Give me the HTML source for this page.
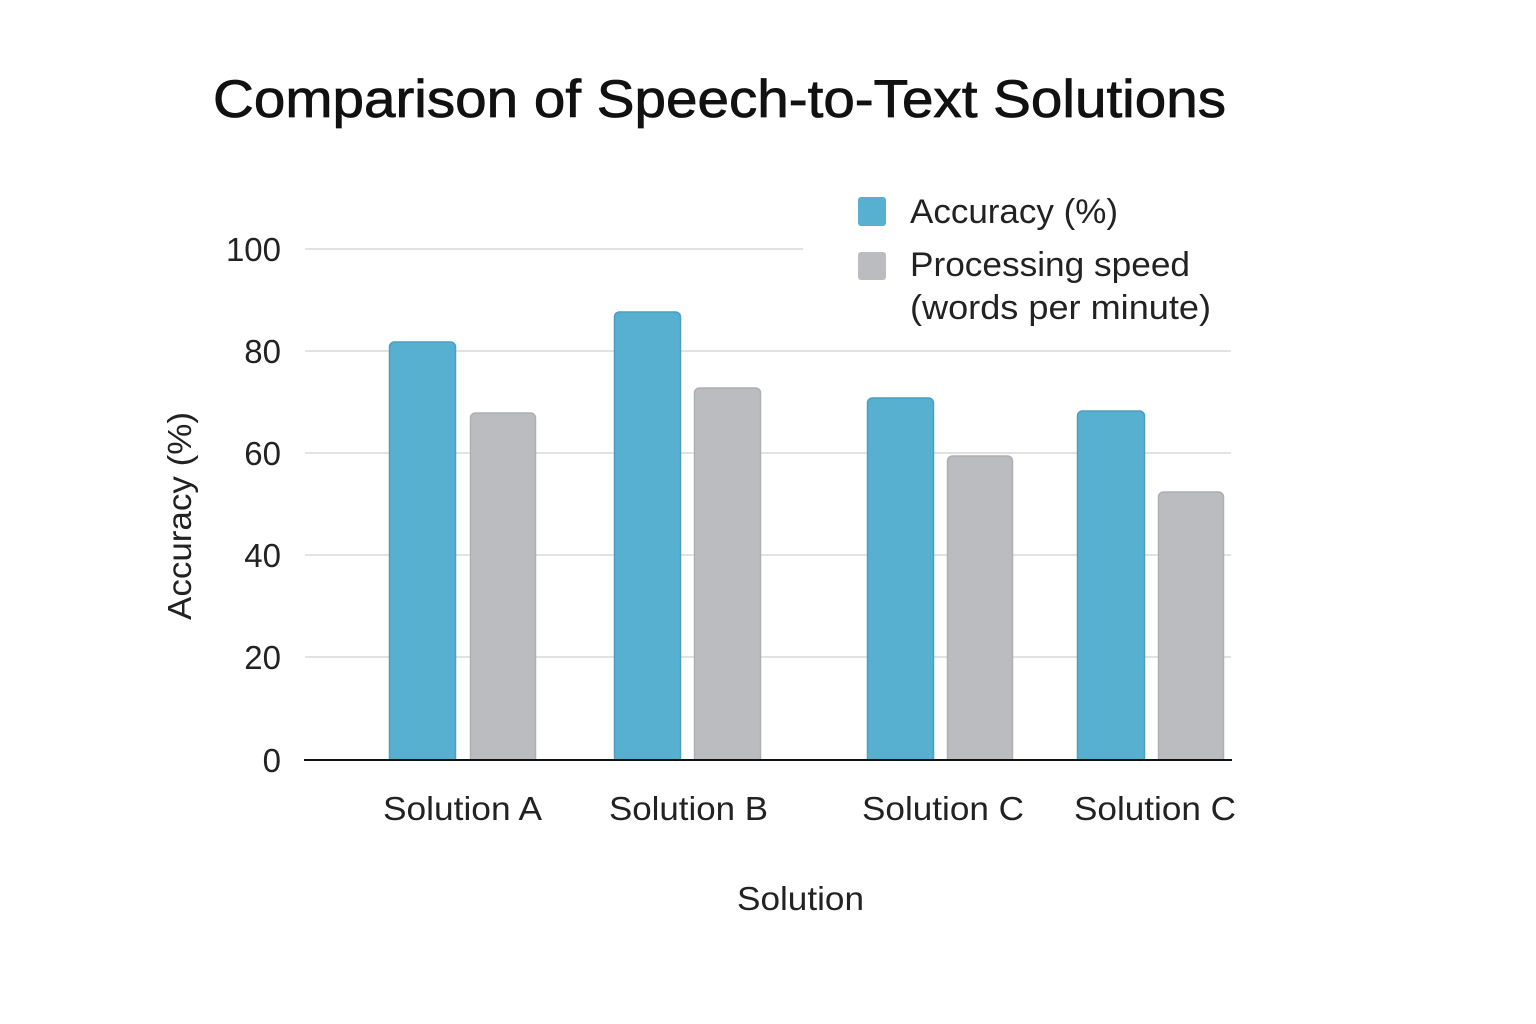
<!DOCTYPE html>
<html><head><meta charset="utf-8"><style>
body{margin:0;background:#fff;}
svg{display:block;font-family:"Liberation Sans",sans-serif;}
</style></head><body>
<svg width="1536" height="1024" viewBox="0 0 1536 1024" xmlns="http://www.w3.org/2000/svg">
<rect width="1536" height="1024" fill="#fff"/>
<text x="213" y="117" font-size="53" fill="#111" textLength="1013" lengthAdjust="spacingAndGlyphs" stroke="#111" stroke-width="0.8">Comparison of Speech-to-Text Solutions</text>
<g stroke="#e2e2e2" stroke-width="2">
<line x1="305" y1="249" x2="803" y2="249"/>
<line x1="305" y1="351" x2="1231" y2="351"/>
<line x1="305" y1="453" x2="1231" y2="453"/>
<line x1="305" y1="555" x2="1231" y2="555"/>
<line x1="305" y1="657" x2="1231" y2="657"/>
</g>
<g font-size="33" fill="#222" text-anchor="end">
<text x="281" y="261">100</text>
<text x="281" y="363">80</text>
<text x="281" y="465">60</text>
<text x="281" y="567">40</text>
<text x="281" y="669">20</text>
<text x="281" y="772">0</text>
</g>
<text transform="translate(191,516) rotate(-90)" font-size="33" fill="#222" text-anchor="middle" textLength="208" lengthAdjust="spacingAndGlyphs">Accuracy (%)</text>
<g fill="#57b0d0" stroke="#4a9fbf" stroke-width="1.5">
<path d="M389.5,760 V347 a5,5 0 0 1 5,-5 H450.5 a5,5 0 0 1 5,5 V760Z"/>
<path d="M614.5,760 V317 a5,5 0 0 1 5,-5 H675.5 a5,5 0 0 1 5,5 V760Z"/>
<path d="M867.5,760 V403 a5,5 0 0 1 5,-5 H928.5 a5,5 0 0 1 5,5 V760Z"/>
<path d="M1077.5,760 V416 a5,5 0 0 1 5,-5 H1139.5 a5,5 0 0 1 5,5 V760Z"/>
</g>
<g fill="#bbbcc0" stroke="#aeafb3" stroke-width="1.5">
<path d="M470.5,760 V418 a5,5 0 0 1 5,-5 H530.5 a5,5 0 0 1 5,5 V760Z"/>
<path d="M694.5,760 V393 a5,5 0 0 1 5,-5 H755.5 a5,5 0 0 1 5,5 V760Z"/>
<path d="M947.5,760 V461 a5,5 0 0 1 5,-5 H1007.5 a5,5 0 0 1 5,5 V760Z"/>
<path d="M1158.5,760 V497 a5,5 0 0 1 5,-5 H1218.5 a5,5 0 0 1 5,5 V760Z"/>
</g>
<line x1="304" y1="760" x2="1232" y2="760" stroke="#111" stroke-width="2"/>
<g font-size="33" fill="#222">
<text x="383" y="820" textLength="159" lengthAdjust="spacingAndGlyphs">Solution A</text>
<text x="609" y="820" textLength="159" lengthAdjust="spacingAndGlyphs">Solution B</text>
<text x="862" y="820" textLength="162" lengthAdjust="spacingAndGlyphs">Solution C</text>
<text x="1074" y="820" textLength="162" lengthAdjust="spacingAndGlyphs">Solution C</text>
<text x="737" y="910" textLength="127" lengthAdjust="spacingAndGlyphs">Solution</text>
</g>
<rect x="858" y="197" width="28" height="29" rx="3" fill="#57b0d0"/>
<rect x="858" y="252" width="28" height="28" rx="3" fill="#bbbcc0"/>
<g font-size="34" fill="#222">
<text x="910" y="223" textLength="208" lengthAdjust="spacingAndGlyphs">Accuracy (%)</text>
<text x="910" y="276" textLength="280" lengthAdjust="spacingAndGlyphs">Processing speed</text>
<text x="910" y="319" textLength="301" lengthAdjust="spacingAndGlyphs">(words per minute)</text>
</g>
</svg>
</body></html>
